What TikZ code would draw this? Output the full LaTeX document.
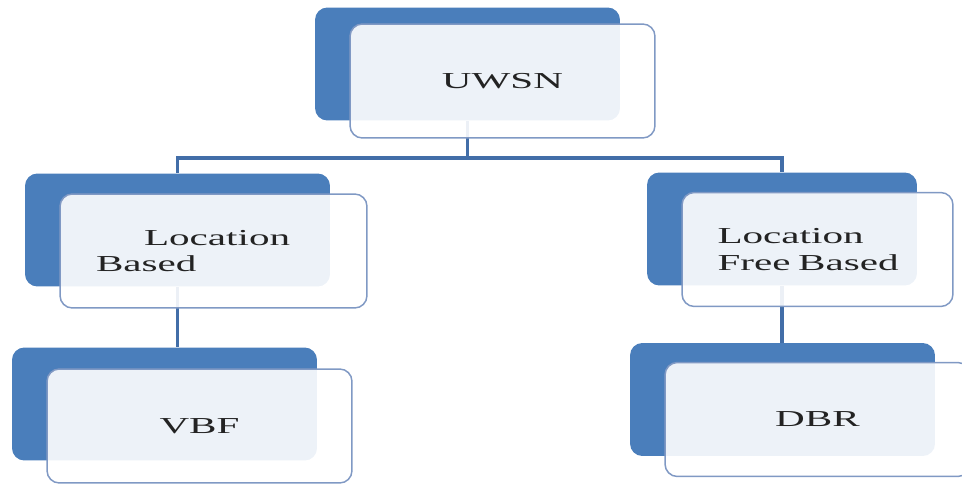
\documentclass[tikz,border=0pt]{standalone}
\usepackage{fontspec}
\setmainfont[FakeStretch=1.8]{Liberation Serif}
\definecolor{boxblue}{RGB}{74,126,187}
\definecolor{linkblue}{RGB}{66,110,168}
\definecolor{edgeblue}{RGB}{128,153,196}
\definecolor{labelgray}{RGB}{35,35,35}
\usetikzlibrary{positioning, calc}

\begin{document}
\begin{tikzpicture}[x=0.02cm, y=-0.02cm,
    backbox/.style={fill=boxblue, rounded corners=7pt, inner sep=0pt, minimum height=2.26cm},
    frontbox/.style={draw=edgeblue, line width=0.85pt, fill=white, fill opacity=0.9, text opacity=1,
        rounded corners=7pt, inner sep=0pt, minimum height=2.28cm, text=labelgray,
        font=\fontsize{13pt}{15pt}\selectfont},
    link/.style={draw=linkblue, line width=2.2pt}]
    \useasboundingbox (0, 0) rectangle (962, 486);
    % blue tiles behind each box
    \node[backbox, minimum width=6.1cm] (uwsnbk) at (467.5, 64) {};
    \node[backbox, minimum width=6.1cm] (locbk) at (177.5, 230) {};
    \node[backbox, minimum width=5.4cm] (freebk) at (782, 229) {};
    \node[backbox, minimum width=6.1cm] (vbfbk) at (164.5, 404) {};
    \node[backbox, minimum width=6.1cm] (dbrbk) at (782.5, 399.5) {};
    % tree links
    \coordinate (fork) at ($(uwsnbk.south)+(0, 37)$);
    \draw[link] (uwsnbk.south) -- (fork);
    \draw[link] (locbk.north) |- (fork) -| (freebk.north);
    \draw[link] (locbk.south) -- (locbk.south |- vbfbk.north);
    \draw[link] (freebk.south) -- (freebk.south |- dbrbk.north);
    % labelled boxes
    \node[frontbox, minimum width=6.1cm] (uwsn) at ($(uwsnbk)+(35, 17)$) {UWSN};
    \node[frontbox, minimum width=6.14cm, text width=4.7cm, align=left] (loc) at ($(locbk)+(36, 21)$)
        {\hspace*{0.96cm}Location\\Based};
    \node[frontbox, minimum width=5.42cm, text width=4.0cm, align=left] (locfree) at ($(freebk)+(35.5, 20.5)$)
        {Location\\Free Based};
    \node[frontbox, minimum width=6.1cm] (vbf) at ($(vbfbk)+(35, 22)$) {VBF};
    \node[frontbox, minimum width=6.1cm] (dbr) at ($(dbrbk)+(35, 20)$) {DBR};
\end{tikzpicture}
\end{document}
